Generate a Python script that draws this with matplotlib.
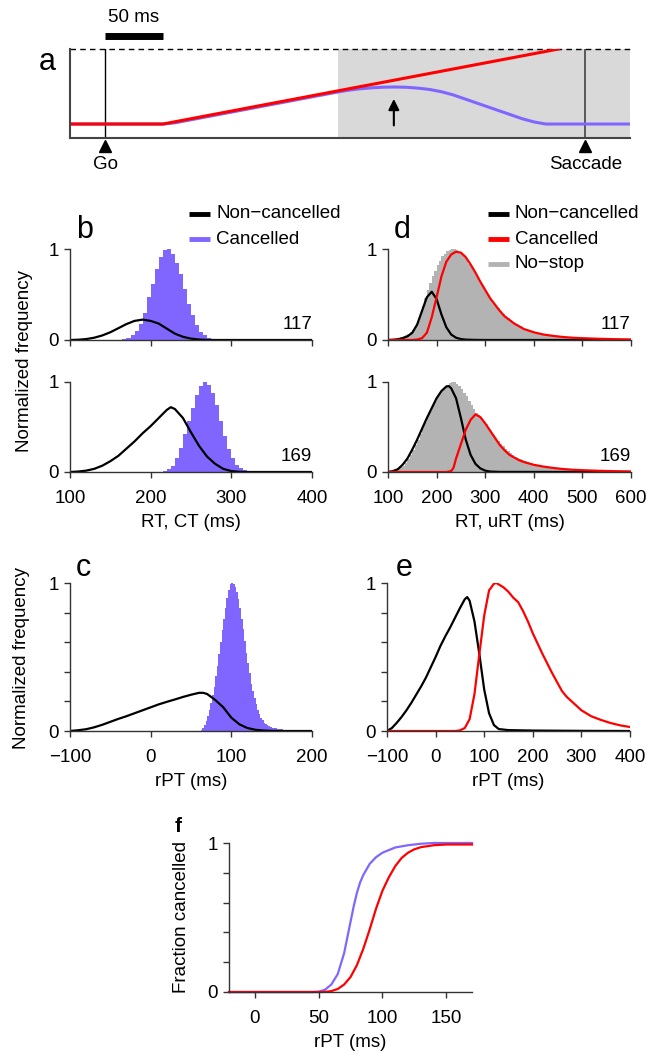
import numpy as np
import matplotlib.pyplot as plt
from matplotlib.lines import Line2D

plt.rcParams['font.family'] = ['Liberation Sans', 'DejaVu Sans']

BLUE = "#8066ff"
RED = "#ff0000"
GRAY = "#b3b3b3"
SPINE = "#333333"
FS = 13.5

# ---- panel a: model activity sketch (ms after go) ----
a_red_t = [-30, 50, 391]
a_red_y = [0.157, 0.157, 1.0]
a_blue_t = [-30, 50, 60, 200, 210, 220, 230, 240, 250, 260, 270, 280, 290,
            300, 310, 320, 330, 340, 350, 360, 370, 380, 453]
a_blue_y = [0.157, 0.157, 0.170, 0.515, 0.537, 0.553, 0.564, 0.571, 0.573,
            0.570, 0.560, 0.545, 0.520, 0.485, 0.440, 0.395, 0.350, 0.305,
            0.260, 0.215, 0.180, 0.157, 0.157]
a_shade_start = 201
a_saccade = 414
a_arrow_t = 249

# ---- panel b: RT / CT distributions ----
b_x = [100, 110, 120, 130, 140, 150, 160, 170, 180, 190, 200, 210, 220, 230,
       240, 250, 260, 270, 280, 300, 400]
b117_noncanc = [0, 0.003, 0.01, 0.025, 0.05, 0.085, 0.13, 0.175, 0.21, 0.224,
                0.21, 0.18, 0.125, 0.07, 0.035, 0.015, 0.005, 0.001, 0, 0, 0]
b169_x = [100, 110, 120, 130, 140, 150, 160, 170, 180, 190, 200, 210, 220, 225,
          230, 240, 250, 260, 270, 280, 290, 300, 310, 320, 400]
b169_noncanc = [0, 0.005, 0.015, 0.035, 0.07, 0.12, 0.18, 0.26, 0.34, 0.43,
                0.51, 0.60, 0.69, 0.72, 0.70, 0.60, 0.44, 0.29, 0.17, 0.09,
                0.035, 0.01, 0.002, 0, 0]
b117_ct_edges = list(range(165, 290, 5))
b117_ct = [0.01, 0.02, 0.05, 0.10, 0.18, 0.30, 0.47, 0.62, 0.78, 0.91, 0.99,
           1.0, 0.95, 0.85, 0.72, 0.56, 0.40, 0.27, 0.16, 0.09, 0.05, 0.02,
           0.01, 0.005]
b169_ct_edges = list(range(215, 330, 5))
b169_ct = [0.01, 0.03, 0.07, 0.15, 0.27, 0.42, 0.57, 0.71, 0.85, 0.95, 1.0,
           0.97, 0.88, 0.74, 0.57, 0.40, 0.26, 0.15, 0.08, 0.04, 0.02, 0.01]

# ---- panel d: RT / uRT distributions ----
d_nostop_edges = list(range(110, 400, 5)) + list(range(400, 610, 10))
d117_nostop = [0.01, 0.015, 0.02, 0.03, 0.04, 0.05, 0.065, 0.085, 0.11, 0.15,
               0.21, 0.28, 0.37, 0.46, 0.55, 0.63, 0.70, 0.76, 0.82, 0.87,
               0.92, 0.95, 0.975, 0.99, 1.0, 1.0, 0.99, 0.97, 0.95, 0.92,
               0.88, 0.84, 0.80, 0.76, 0.71, 0.67, 0.62, 0.58, 0.53, 0.49,
               0.45, 0.41, 0.38, 0.35, 0.32, 0.29, 0.265, 0.24, 0.22, 0.20,
               0.18, 0.165, 0.15, 0.135, 0.12, 0.11, 0.10, 0.09,
               0.08, 0.065, 0.055, 0.047, 0.04, 0.034, 0.029, 0.025, 0.022,
               0.019, 0.017, 0.015, 0.013, 0.011, 0.01, 0.009, 0.008, 0.007,
               0.006, 0.005]
d169_nostop = [0.01, 0.02, 0.03, 0.05, 0.07, 0.10, 0.14, 0.19, 0.24, 0.30,
               0.36, 0.42, 0.49, 0.55, 0.62, 0.68, 0.74, 0.79, 0.84, 0.88,
               0.91, 0.94, 0.97, 0.99, 1.0, 1.0, 0.98, 0.955, 0.92, 0.88,
               0.84, 0.79, 0.74, 0.70, 0.66, 0.63, 0.60, 0.565, 0.53, 0.49,
               0.45, 0.415, 0.38, 0.345, 0.31, 0.285, 0.26, 0.235, 0.21, 0.19,
               0.17, 0.155, 0.14, 0.13, 0.12, 0.11, 0.10, 0.09,
               0.08, 0.065, 0.055, 0.047, 0.04, 0.034, 0.029, 0.025, 0.022,
               0.019, 0.017, 0.015, 0.013, 0.011, 0.01, 0.009, 0.008, 0.007,
               0.006, 0.005]
d_nc_x = [100, 110, 120, 130, 140, 150, 160, 170, 180, 190, 200, 210, 220,
          230, 240, 250, 260, 280, 300, 600]
d117_noncanc = [0, 0.003, 0.008, 0.02, 0.04, 0.08, 0.17, 0.32, 0.47, 0.53,
                0.45, 0.28, 0.14, 0.06, 0.025, 0.01, 0.004, 0.001, 0, 0]
d169_nc_x = [100, 110, 120, 130, 140, 150, 160, 170, 180, 190, 200, 210, 220,
             225, 230, 240, 250, 260, 270, 280, 290, 300, 310, 330, 600]
d169_noncanc = [0, 0.01, 0.03, 0.08, 0.15, 0.25, 0.36, 0.48, 0.60, 0.71,
                0.82, 0.90, 0.95, 0.955, 0.93, 0.82, 0.60, 0.36, 0.19, 0.09,
                0.04, 0.015, 0.005, 0.001, 0]
d117_c_x = [100, 150, 160, 170, 180, 190, 200, 210, 220, 230, 240, 250, 260,
            270, 280, 290, 300, 310, 320, 330, 340, 350, 360, 370, 380, 400,
            420, 440, 460, 480, 500, 525, 550, 575, 600]
d117_canc = [0, 0, 0.005, 0.02, 0.08, 0.25, 0.47, 0.70, 0.86, 0.94, 0.97,
             0.96, 0.91, 0.83, 0.74, 0.64, 0.55, 0.46, 0.39, 0.32, 0.26, 0.22,
             0.18, 0.15, 0.12, 0.085, 0.06, 0.045, 0.033, 0.025, 0.02, 0.015,
             0.011, 0.008, 0.006]
d169_c_x = [100, 220, 230, 235, 240, 250, 260, 270, 280, 290, 300, 310, 320,
            330, 340, 350, 360, 370, 380, 400, 420, 440, 460, 480, 500, 525,
            550, 575, 600]
d169_canc = [0, 0, 0.01, 0.05, 0.15, 0.31, 0.47, 0.58, 0.64, 0.61, 0.54, 0.46,
             0.38, 0.30, 0.24, 0.19, 0.16, 0.13, 0.11, 0.08, 0.06, 0.045,
             0.033, 0.025, 0.02, 0.015, 0.011, 0.008, 0.006]

# ---- panel c: rPT, CT model ----
c_nc_x = [-100, -90, -80, -70, -60, -50, -40, -30, -20, -10, 0, 10, 20, 30,
          40, 50, 60, 65, 70, 80, 90, 100, 110, 120, 130, 140, 150, 160, 200]
c_noncanc = [0, 0.005, 0.012, 0.025, 0.042, 0.062, 0.082, 0.10, 0.12, 0.14,
             0.16, 0.18, 0.197, 0.213, 0.23, 0.245, 0.258, 0.258, 0.25, 0.21,
             0.16, 0.09, 0.045, 0.02, 0.008, 0.003, 0.001, 0, 0]
c_canc_edges = list(range(62, 182, 2))
c_canc = [0.01, 0.02, 0.04, 0.07, 0.10, 0.14, 0.19, 0.24, 0.30, 0.37,
          0.44, 0.52, 0.60, 0.68, 0.76, 0.83, 0.90, 0.95, 0.99, 1.0,
          0.99, 0.97, 0.94, 0.89, 0.83, 0.76, 0.69, 0.61, 0.53, 0.46,
          0.39, 0.32, 0.27, 0.22, 0.18, 0.145, 0.115, 0.09, 0.072, 0.057,
          0.046, 0.038, 0.032, 0.027, 0.023, 0.02, 0.018, 0.016, 0.014, 0.012,
          0.011, 0.01, 0.009, 0.008, 0.007, 0.006, 0.005, 0.005, 0.004]

# ---- panel e: rPT, uRT model ----
e_nc_x = [-100, -90, -80, -70, -60, -50, -40, -30, -20, -10, 0, 10, 20, 30,
          40, 50, 60, 65, 70, 80, 90, 100, 110, 120, 130, 150, 200, 300, 400]
e_noncanc = [0, 0.02, 0.055, 0.095, 0.14, 0.19, 0.245, 0.30, 0.36, 0.43,
             0.50, 0.575, 0.64, 0.70, 0.765, 0.83, 0.89, 0.905, 0.88, 0.74,
             0.52, 0.28, 0.12, 0.04, 0.013, 0.006, 0.003, 0.001, 0]
e_c_x = [-100, 40, 50, 60, 70, 80, 90, 100, 110, 120, 125, 130, 140, 150, 160,
         170, 180, 190, 200, 210, 220, 230, 240, 250, 260, 270, 280, 290, 300,
         320, 340, 360, 380, 400]
e_canc = [0, 0, 0.004, 0.02, 0.08, 0.25, 0.52, 0.78, 0.95, 0.995, 1.0, 0.99,
          0.97, 0.94, 0.90, 0.87, 0.81, 0.74, 0.66, 0.59, 0.52, 0.455, 0.39,
          0.33, 0.27, 0.23, 0.20, 0.17, 0.14, 0.10, 0.075, 0.054, 0.038,
          0.027]

# ---- panel f: fraction cancelled ----
f_blue_x = [-20, 45, 50, 55, 60, 65, 70, 75, 77.5, 80, 82.5, 85, 90, 95, 100,
            110, 120, 130, 140, 170]
f_blue = [0, 0, 0.002, 0.015, 0.05, 0.12, 0.26, 0.47, 0.575, 0.665, 0.735,
          0.785, 0.86, 0.905, 0.935, 0.97, 0.985, 0.995, 1.0, 1.0]
f_red_x = [-20, 50, 55, 60, 65, 70, 75, 80, 85, 90, 95, 100, 105, 110, 115,
           120, 125, 130, 140, 150, 170]
f_red = [0, 0, 0.001, 0.006, 0.02, 0.05, 0.10, 0.18, 0.29, 0.42, 0.56, 0.68,
         0.77, 0.845, 0.9, 0.935, 0.958, 0.972, 0.985, 0.99, 0.99]

W, H = 660, 1054
fig = plt.figure(figsize=(W / 100, H / 100), dpi=100)


def px_axes(left, top, right, bottom):
    return fig.add_axes([left / W, 1 - bottom / H, (right - left) / W,
                         (bottom - top) / H])


def style(ax, xlim, xticks, minor_y=False, xlabels=True):
    for s in ["top", "right"]:
        ax.spines[s].set_visible(False)
    for s in ["left", "bottom"]:
        ax.spines[s].set_color(SPINE)
        ax.spines[s].set_linewidth(1)
    ax.set_xlim(*xlim)
    ax.set_ylim(0, 1)
    ax.set_xticks(xticks)
    if minor_y:
        ax.set_yticks([0, 0.2, 0.4, 0.6, 0.8, 1])
        ax.set_yticklabels(["0", "", "", "", "", "1"])
    else:
        ax.set_yticks([0, 1])
        ax.set_yticklabels(["0", "1"])
    ax.set_xticklabels([str(t).replace("-", "\u2212") for t in xticks])
    ax.tick_params(direction="out", length=4, width=1, color=SPINE,
                   labelsize=FS, pad=9)
    ax.tick_params(axis="y", pad=4)
    if not xlabels:
        ax.tick_params(labelbottom=False)


def hist(ax, edges, vals, color):
    # edges are left bin edges; the last bin closes one step further
    e = np.array(edges, float)
    e = np.append(e, e[-1] + (e[-1] - e[-2]))[:len(vals) + 1]
    ax.stairs(vals, e, fill=True, color=color, lw=0.4)


# ---- panel a ----
ax = px_axes(70, 49, 630, 138)
ax.set_xlim(-30.2, 452.6)
ax.set_ylim(0, 1)
for s in ["top", "right"]:
    ax.spines[s].set_visible(False)
for s in ["left", "bottom"]:
    ax.spines[s].set_color("#444444")
    ax.spines[s].set_linewidth(1.5)
ax.set_xticks([])
ax.set_yticks([])
ax.axvspan(a_shade_start, 452.6, color="#d9d9d9", lw=0)
ax.axhline(1, ls=(0, (4, 3)), color="k", lw=1, clip_on=False)
ax.plot([0, 0], [0, 1], color="k", lw=1)
ax.plot([a_saccade, a_saccade], [0, 1], color="#444444", lw=1.2)
ax.plot(a_blue_t, a_blue_y, color=BLUE, lw=2.2)
ax.plot(a_red_t, a_red_y, color=RED, lw=2.2)
ax.annotate("", xy=(a_arrow_t, 0.47), xytext=(a_arrow_t, 0.11),
            arrowprops=dict(arrowstyle="-|>", color="k", lw=1.5,
                            mutation_scale=16))
for t, lab in [(0, "Go"), (a_saccade, "Saccade")]:
    ax.plot(t, -0.095, marker="^", ms=9, color="k", clip_on=False)
    ax.text(t, -0.30, lab, ha="center", va="center", fontsize=FS,
            clip_on=False)
ax.plot([0, 50], [1.146, 1.146], color="k", lw=5, solid_capstyle="butt",
        clip_on=False)
ax.text(25, 1.35, "50 ms", ha="center", va="center", fontsize=FS,
        clip_on=False)
fig.text(47 / W, 1 - 62 / H, "a", fontsize=22, ha="center", va="center")

# ---- panel b ----
ax = px_axes(70, 249, 312, 340)
style(ax, (100, 400), [100, 200, 300, 400], xlabels=False)
hist(ax, b117_ct_edges, b117_ct, BLUE)
ax.plot(b_x, b117_noncanc, color="k", lw=1.6)
ax.text(1.0, 0.17, "117", transform=ax.transAxes, ha="right", va="center",
        fontsize=FS)

ax = px_axes(70, 382, 312, 472)
style(ax, (100, 400), [100, 200, 300, 400])
hist(ax, b169_ct_edges, b169_ct, BLUE)
ax.plot(b169_x, b169_noncanc, color="k", lw=1.6)
ax.text(1.0, 0.17, "169", transform=ax.transAxes, ha="right", va="center",
        fontsize=FS)
ax.set_xlabel("RT, CT (ms)", fontsize=FS, labelpad=5)

# ---- panel d ----
ax = px_axes(388, 249, 631, 340)
style(ax, (100, 600), [100, 200, 300, 400, 500, 600], xlabels=False)
hist(ax, d_nostop_edges, d117_nostop, GRAY)
ax.plot(d_nc_x, d117_noncanc, color="k", lw=1.6)
ax.plot(d117_c_x, d117_canc, color=RED, lw=1.6)
ax.text(1.0, 0.17, "117", transform=ax.transAxes, ha="right", va="center",
        fontsize=FS)

ax = px_axes(388, 382, 631, 472)
style(ax, (100, 600), [100, 200, 300, 400, 500, 600])
hist(ax, d_nostop_edges, d169_nostop, GRAY)
ax.plot(d169_nc_x, d169_noncanc, color="k", lw=1.6)
ax.plot(d169_c_x, d169_canc, color=RED, lw=1.6)
ax.text(1.0, 0.17, "169", transform=ax.transAxes, ha="right", va="center",
        fontsize=FS)
ax.set_xlabel("RT, uRT (ms)", fontsize=FS, labelpad=5)

# ---- panel c ----
ax = px_axes(70, 583, 312, 731)
style(ax, (-100, 200), [-100, 0, 100, 200], minor_y=True)
hist(ax, c_canc_edges, c_canc, BLUE)
ax.plot(c_nc_x, c_noncanc, color="k", lw=1.6)
ax.set_xlabel("rPT (ms)", fontsize=FS, labelpad=5)

# ---- panel e ----
ax = px_axes(387, 583, 630, 731)
style(ax, (-100, 400), [-100, 0, 100, 200, 300, 400], minor_y=True)
ax.plot(e_nc_x, e_noncanc, color="k", lw=1.6)
ax.plot(e_c_x, e_canc, color=RED, lw=1.6)
ax.set_xlabel("rPT (ms)", fontsize=FS, labelpad=5)

# ---- panel f ----
ax = px_axes(229, 843, 472, 992)
style(ax, (-20, 170), [0, 50, 100, 150], minor_y=True)
ax.plot(f_blue_x, f_blue, color=BLUE, lw=1.6, clip_on=False)
ax.plot(f_red_x, f_red, color=RED, lw=1.6, clip_on=False)
ax.set_xlabel("rPT (ms)", fontsize=FS, labelpad=5)

# ---- shared labels, letters, legends ----
fig.text(25 / W, 1 - 361 / H, "Normalized frequency", rotation=90,
         ha="center", va="center", fontsize=FS)
fig.text(22 / W, 1 - 658 / H, "Normalized frequency", rotation=90,
         ha="center", va="center", fontsize=FS)
fig.text(182 / W, 1 - 917 / H, "Fraction cancelled", rotation=90,
         ha="center", va="center", fontsize=FS)
for x, y, s in [(85, 230, "b"), (402, 230, "d"), (83, 568, "c"),
                (404, 568, "e")]:
    fig.text(x / W, 1 - y / H, s, fontsize=22, ha="center", va="center")
fig.text(178 / W, 1 - 826 / H, "f", fontsize=15, fontweight="bold",
         ha="center", va="center")

legends = [
    (189, [(214, "k", "Non\u2212cancelled"), (239, BLUE, "Cancelled")]),
    (488, [(214, "k", "Non\u2212cancelled"), (239, RED, "Cancelled"),
           (264, GRAY, "No\u2212stop")]),
]
for x0, rows in legends:
    for y, col, lab in rows:
        fig.add_artist(Line2D([x0 / W, (x0 + 21) / W], [1 - y / H, 1 - y / H],
                              color=col, lw=3.5, solid_capstyle="butt"))
        fig.text((x0 + 27) / W, 1 - y / H, lab, fontsize=FS, ha="left",
                 va="center")

fig.savefig("out.png", dpi=100)
